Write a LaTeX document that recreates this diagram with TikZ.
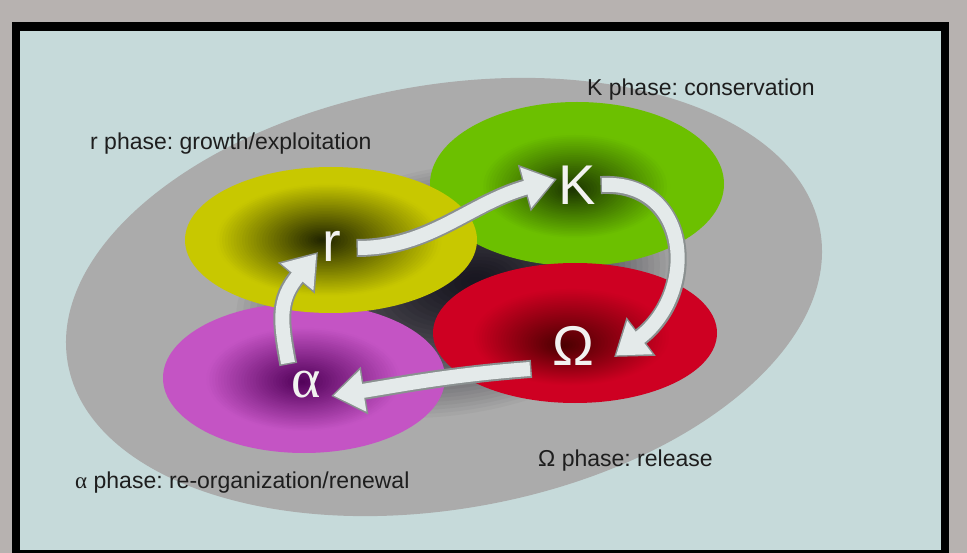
\documentclass[tikz,border=0pt]{standalone}
\usepackage{fontspec}
\setmainfont{Liberation Sans}
\newfontfamily\serifgreek{Liberation Serif}
\usetikzlibrary{arrows.meta}
\definecolor{bgstone}{HTML}{B7B2B0}
\definecolor{panel}{HTML}{C6DADA}
\definecolor{grayell}{HTML}{ABABAB}
\definecolor{graydark}{HTML}{181620}
\definecolor{yel}{HTML}{C8C800}
\definecolor{yeldark}{HTML}{1E2200}
\definecolor{grn}{HTML}{6CC000}
\definecolor{grndark}{HTML}{1A3200}
\definecolor{redc}{HTML}{CE0022}
\definecolor{reddark}{HTML}{480000}
\definecolor{mag}{HTML}{C454C4}
\definecolor{magdark}{HTML}{500058}
\definecolor{arrowfill}{HTML}{E4EAEA}
\definecolor{arrowedge}{HTML}{8A9090}
\definecolor{letterfill}{HTML}{F2F2F0}
\definecolor{labeltext}{HTML}{1E1E1E}
% cx cy a b darkx darky base dark threshold
\newcommand{\shadeblob}[9]{%
  \foreach \i in {0,...,47}{%
    \pgfmathsetmacro\blobs{1-\i/48}%
    \pgfmathsetmacro\blobp{min(100,100*\blobs/#9)}%
    \fill[#7!\blobp!#8] ({#5+\blobs*(#1-#5)},{#6+\blobs*(#2-#6)}) ellipse [x radius={\blobs*#3}, y radius={\blobs*#4}];
  }}
\tikzset{
  arwout/.style={draw=arrowedge, line width=18pt, shorten <=-1.5pt, -{Triangle[width=46pt,length=34pt]}},
  arwin/.style={draw=arrowfill, line width=14pt, shorten >=2.5pt, -{Triangle[width=40pt,length=30pt]}},
  phaselabel/.style={anchor=base west, inner sep=0pt, text=labeltext, font=\fontsize{23}{27}\selectfont},
  bigletter/.style={anchor=base, inner sep=0pt, text=letterfill, font=\fontsize{56}{60}\selectfont},
}
\newcommand{\bigarrow}[1]{\draw[arwout] #1; \draw[arwin] #1;}
\frenchspacing
\begin{document}
\begin{tikzpicture}[x=1pt,y=-1pt]
\useasboundingbox (0,0) rectangle (967,553);
% background and frame
\fill[bgstone] (0,0) rectangle (967,553);
\fill[black] (12,22) rectangle (949,553);
\fill[panel] (20,31) rectangle (941,550);
% big grey ellipse
\begin{scope}[shift={(444,297)}, rotate=10]
  \foreach \i in {0,...,59}{%
    \pgfmathsetmacro\blobs{1-\i/60}%
    \pgfmathsetmacro\blobp{min(100,100*(\blobs/0.6)^1.5)}%
    \fill[grayell!\blobp!graydark] ({33*(1-\blobs)},{-11*(1-\blobs)}) ellipse [x radius={\blobs*382}, y radius={\blobs*212}];
  }
\end{scope}
% phase blobs
\shadeblob{577}{184}{147}{82}{572}{190}{grn}{grndark}{0.65}
\shadeblob{304}{378}{141}{75}{302}{382}{mag}{magdark}{0.7}
\shadeblob{331}{240}{146}{73}{322}{240}{yel}{yeldark}{0.78}
\shadeblob{575}{333}{142}{70}{563}{346}{redc}{reddark}{0.7}
% letters
\node[bigletter] (r) at (332,262) {r};
\node[bigletter] (K) at (577,205) {K};
\node[bigletter] (O) at (573,366) {Ω};
\node[bigletter] (A) at (306,397) {\serifgreek α};
% arrow ends
\coordinate (r-out) at (358,248);
\coordinate (K-in) at (557,179);
\coordinate (K-out) at (602,185);
\coordinate (O-in) at (614,357);
\coordinate (O-out) at (530,369);
\coordinate (A-in) at (331,396);
\coordinate (A-out) at (288,363);
\coordinate (r-in) at (318,252);
% arrows
\bigarrow{(r-out) .. controls (430,248) and (470,203) .. (K-in)}
\bigarrow{(K-out) .. controls (690,180) and (700,292) .. (O-in)}
\bigarrow{(O-out) .. controls (450,375) and (400,385) .. (A-in)}
\bigarrow{(A-out) .. controls (280,320) and (278,300) .. (r-in)}
% labels
\node[phaselabel] (lr) at (90,150) {r phase: growth/exploitation};
\node[phaselabel] (lK) at (587,96) {K phase: conservation};
\node[phaselabel] (lO) at (538,466) {Ω phase: release};
\node[phaselabel] (lA) at (75,488) {{\serifgreek α} phase: re-organization/renewal};
\end{tikzpicture}
\end{document}
